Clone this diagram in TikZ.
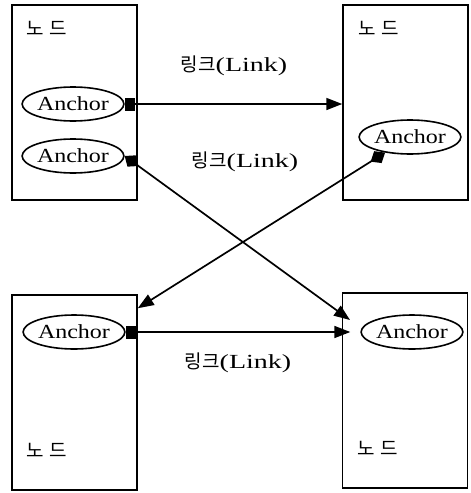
\documentclass[tikz,border=0pt]{standalone}
\usepackage{fontspec}
\usepackage{graphicx}
\setmainfont{Liberation Serif}
\newfontfamily\kr{Noto Sans CJK KR}
\usetikzlibrary{arrows.meta,shapes.geometric,calc}
\newcommand{\wideA}[1]{\scalebox{1.2}[1]{#1}}
\newcommand{\wideL}[1]{\scalebox{1.4}[1]{#1}}
\newcommand{\linklabel}{{\kr\fontsize{19}{19}\selectfont 링크}\wideL{(Link)}}
\newcommand{\nodelabel}{노\hspace{6pt}드}
\begin{document}
\begin{tikzpicture}[x=1pt,y=-1pt,
  box/.style={draw, line width=1.5pt, minimum width=125pt, minimum height=195pt, inner sep=0pt},
  anc/.style={draw, ellipse, line width=1.6pt, minimum width=97pt, minimum height=34pt, inner sep=0pt, font=\fontsize{20}{20}\selectfont},
  lbl/.style={font=\fontsize{20}{20}\selectfont, inner sep=0pt},
  nd/.style={font=\kr\fontsize{19}{19}\selectfont},
  lnk/.style={line width=1.7pt},
  sqtail/.style={{Square[length=10pt,width=13pt]}-{Triangle[length=16pt,width=12pt]}},
  dmtail/.style={{Diamond[length=17pt,width=14pt]}-{Triangle[length=16pt,width=12pt]}},
]
\useasboundingbox (0,0) rectangle (471,493);
% boxes
\node[box] (TL) at (74.5,102.5) {};
\node[box] (TR) at (405.5,102.5) {};
\node[box] (BL) at (74.5,392.5) {};
\node[box] (BR) at (405,390.5) {};
% node labels
\node[nd] (tlN) at (47,28) {\nodelabel};
\node[nd] (trN) at (379,28) {\nodelabel};
\node[nd] (blN) at (47,450) {\nodelabel};
\node[nd] (brN) at (378,448) {\nodelabel};
% anchors
\node[anc] (A1) at (73,104) {\wideA{Anchor}};
\node[anc] (A2) at (73,156) {\wideA{Anchor}};
\node[anc] (TRa) at (410,137) {\wideA{Anchor}};
\node[anc] (BLa) at (74,332) {\wideA{Anchor}};
\node[anc] (BRa) at (412,332) {\wideA{Anchor}};
% link labels
\node[lbl] (L1) at (234,66) {\linklabel};
\node[lbl] (L2) at (245,162) {\linklabel};
\node[lbl] (L3) at (238,363) {\linklabel};
% free ends
\coordinate (tipA) at (350,320);
\coordinate (tipB) at ($(BL.north east)+(0,14)$);
% connectors
\draw[lnk,sqtail] (A1.east) -- (A1.east -| TR.west);
\draw[lnk,dmtail] (A2.east) -- (tipA);
\draw[lnk,dmtail] (TRa.212) -- (tipB);
\draw[lnk,sqtail,shorten >=10pt] (BLa.east) -- (BRa.west);
\end{tikzpicture}
\end{document}
